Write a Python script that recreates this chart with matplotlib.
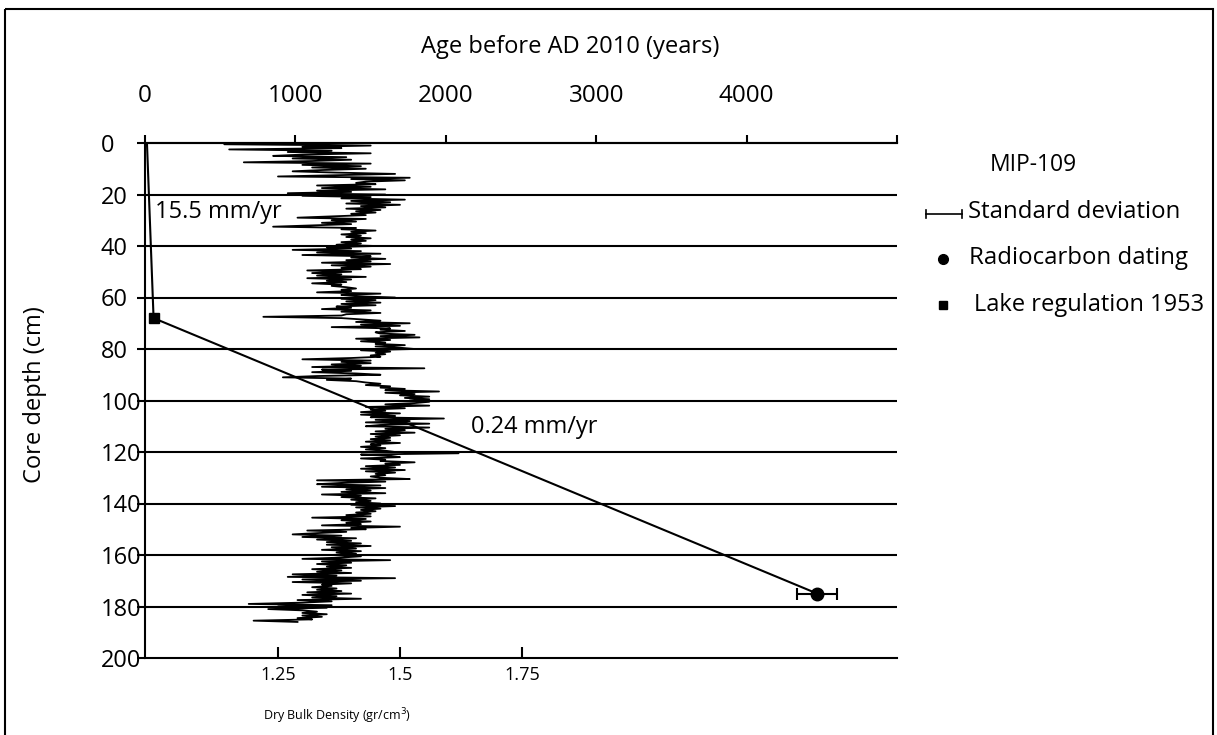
import numpy as np
import matplotlib
matplotlib.use("Agg")
import matplotlib.pyplot as plt
from matplotlib.patches import Rectangle

plt.rcParams['font.family'] = ['Open Sans', 'DejaVu Sans']

# ---------------- data ----------------
# dry bulk density (g/cm3), sampled every 0.5 cm from 0 to 186 cm
density = [
    1.45, 1.14, 1.44, 1.30, 1.38, 1.15, 1.36, 1.27, 1.44, 1.30,
    1.24, 1.39, 1.28, 1.40, 1.32, 1.18, 1.44, 1.30, 1.42, 1.32,
    1.43, 1.34, 1.28, 1.37, 1.49, 1.37, 1.25, 1.52, 1.40, 1.51,
    1.43, 1.41, 1.45, 1.33, 1.44, 1.34, 1.47, 1.33, 1.40, 1.27,
    1.47, 1.30, 1.44, 1.38, 1.51, 1.40, 1.48, 1.39, 1.50, 1.42,
    1.47, 1.39, 1.46, 1.41, 1.45, 1.40, 1.43, 1.36, 1.29, 1.43,
    1.36, 1.41, 1.34, 1.40, 1.32, 1.24, 1.41, 1.38, 1.45, 1.40,
    1.43, 1.38, 1.42, 1.39, 1.44, 1.40, 1.43, 1.38, 1.42, 1.37,
    1.45, 1.35, 1.40, 1.28, 1.42, 1.33, 1.46, 1.30, 1.44, 1.40,
    1.47, 1.39, 1.44, 1.34, 1.48, 1.36, 1.44, 1.38, 1.42, 1.31,
    1.40, 1.32, 1.38, 1.33, 1.43, 1.31, 1.40, 1.35, 1.39, 1.32,
    1.38, 1.36, 1.39, 1.41, 1.38, 1.40, 1.33, 1.46, 1.38, 1.41,
    1.49, 1.38, 1.45, 1.39, 1.46, 1.38, 1.45, 1.37, 1.40, 1.34,
    1.44, 1.38, 1.46, 1.39, 1.38, 1.22, 1.38, 1.42, 1.46, 1.41,
    1.52, 1.42, 1.50, 1.36, 1.48, 1.46, 1.51, 1.45, 1.46, 1.53,
    1.46, 1.54, 1.41, 1.48, 1.42, 1.47, 1.45, 1.51, 1.45, 1.50,
    1.53, 1.42, 1.48, 1.45, 1.47, 1.44, 1.46, 1.40, 1.30, 1.44,
    1.38, 1.44, 1.36, 1.42, 1.32, 1.55, 1.34, 1.40, 1.32, 1.41,
    1.46, 1.33, 1.26, 1.40, 1.35, 1.41, 1.43, 1.46, 1.43, 1.48,
    1.46, 1.51, 1.47, 1.58, 1.47, 1.53, 1.50, 1.56, 1.51, 1.56,
    1.52, 1.56, 1.53, 1.47, 1.56, 1.43, 1.51, 1.44, 1.47, 1.42,
    1.50, 1.42, 1.49, 1.44, 1.59, 1.45, 1.52, 1.43, 1.56, 1.46,
    1.43, 1.56, 1.47, 1.51, 1.45, 1.53, 1.44, 1.50, 1.45, 1.48,
    1.44, 1.48, 1.43, 1.50, 1.44, 1.46, 1.42, 1.47, 1.43, 1.47,
    1.49, 1.62, 1.42, 1.48, 1.50, 1.42, 1.47, 1.46, 1.53, 1.47,
    1.50, 1.43, 1.49, 1.42, 1.51, 1.43, 1.49, 1.45, 1.47, 1.44,
    1.46, 1.52, 1.33, 1.47, 1.38, 1.33, 1.46, 1.34, 1.47, 1.39,
    1.44, 1.38, 1.47, 1.34, 1.42, 1.38, 1.45, 1.40, 1.44, 1.41,
    1.46, 1.40, 1.49, 1.41, 1.46, 1.42, 1.45, 1.41, 1.44, 1.39,
    1.44, 1.32, 1.43, 1.38, 1.44, 1.39, 1.42, 1.34, 1.50, 1.40,
    1.43, 1.31, 1.39, 1.33, 1.28, 1.38, 1.30, 1.41, 1.33, 1.40,
    1.35, 1.42, 1.35, 1.44, 1.36, 1.41, 1.34, 1.42, 1.37, 1.41,
    1.36, 1.42, 1.38, 1.30, 1.48, 1.34, 1.40, 1.33, 1.39, 1.35,
    1.40, 1.32, 1.38, 1.33, 1.40, 1.28, 1.37, 1.27, 1.49, 1.30,
    1.42, 1.28, 1.40, 1.34, 1.36, 1.32, 1.37, 1.33, 1.38, 1.31,
    1.40, 1.30, 1.37, 1.32, 1.42, 1.29, 1.36, 1.30, 1.19, 1.36,
    1.25, 1.35, 1.23, 1.30, 1.33, 1.30, 1.35, 1.30, 1.34, 1.29,
    1.32, 1.20, 1.29,
]
density_depth = np.arange(len(density)) * 0.5

# age-depth model
model_depth = [0, 68, 175]          # cm
model_age = [13, 57, 4470]          # years before AD 2010
radiocarbon_depth = [175]
radiocarbon_age = [4470]
radiocarbon_sd = [133]
regulation_depth = [68]
regulation_age = [57]

depth_ticks = list(range(0, 201, 20))
age_ticks = [0, 1000, 2000, 3000, 4000, 5000]
age_tick_labels = ['0', '1000', '2000', '3000', '4000', '']
density_ticks = [1.25, 1.5, 1.75]
density_tick_labels = ['1.25', '1.5', '1.75']

# ---------------- figure ----------------
W, H = 1217, 735
fig = plt.figure(figsize=(W / 100, H / 100), dpi=100)
fig.patch.set_facecolor('white')

ax = fig.add_axes([145 / W, 1 - 658 / H, (897 - 145) / W, (658 - 143) / H])
ax.set_xlim(0.9775, 2.5185)
ax.set_ylim(200, 0)

lw = 1.5
for d in depth_ticks[1:-1]:
    ax.axhline(d, color='black', lw=lw, zorder=1)

ax.plot(density, density_depth, color='black', lw=1.3, zorder=3)

ax.spines['right'].set_visible(False)
for s in ['left', 'bottom', 'top']:
    ax.spines[s].set_linewidth(lw)

ax.set_yticks(depth_ticks)
ax.set_yticklabels([str(t) for t in depth_ticks], fontsize=17)
ax.tick_params(axis='y', direction='out', length=6, width=lw, pad=26)
for lab in ax.get_yticklabels():
    lab.set_horizontalalignment('left')

ax.set_xticks(density_ticks)
ax.set_xticklabels(density_tick_labels, fontsize=13)
ax.tick_params(axis='x', direction='in', length=8, width=lw, pad=6)

# age axis on top
ax2 = ax.twiny()
ax2.set_xlim(0, 5000)
ax2.set_ylim(200, 0)
for s in ['right', 'bottom', 'left']:
    ax2.spines[s].set_visible(False)
ax2.spines['top'].set_linewidth(lw)
ax2.set_xticks(age_ticks)
ax2.set_xticklabels(age_tick_labels, fontsize=17.5)
ax2.tick_params(axis='x', direction='out', length=6, width=lw, pad=19)

ax2.plot(model_age, model_depth, color='black', lw=1.5, zorder=4)
ax2.errorbar(radiocarbon_age, radiocarbon_depth, xerr=radiocarbon_sd, fmt='o',
             color='black', ms=9, capsize=4, elinewidth=1.5, capthick=1.5, zorder=5)
ax2.plot(regulation_age, regulation_depth, 's', color='black', ms=7.5, zorder=5)

ax2.text(65, 26.8, '15.5 mm/yr', fontsize=17, va='center', ha='left')
ax2.text(2165, 110.3, '0.24 mm/yr', fontsize=17, va='center', ha='left')

# axis titles
fig.text(570 / W, 1 - 47 / H, 'Age before AD 2010 (years)', fontsize=17,
         ha='center', va='center')
fig.text(35 / W, 1 - 395 / H, 'Core depth (cm)', fontsize=17, rotation=90,
         ha='center', va='center')
fig.text(337 / W, 1 - 716 / H, 'Dry Bulk Density (gr/cm$^3$)', fontsize=9,
         ha='center', va='center')

# overlay for legend and frame (pixel coordinates)
ov = fig.add_axes([0, 0, 1, 1], zorder=-1)
ov.set_xlim(0, W)
ov.set_ylim(H, 0)
ov.axis('off')
ov.add_patch(Rectangle((5, 9), 1208, 760, fill=False, edgecolor='black', lw=1.5))

ov.text(990, 165, 'MIP-109', fontsize=16.5, va='center', ha='left')
ov.plot([926, 962], [214, 214], color='black', lw=1.2)
ov.plot([926, 926], [210, 218], color='black', lw=1.2)
ov.plot([962, 962], [210, 218], color='black', lw=1.2)
ov.text(968, 212, 'Standard deviation', fontsize=17.3, va='center', ha='left')
ov.plot([943], [259], 'o', color='black', ms=7)
ov.text(969, 258, 'Radiocarbon dating', fontsize=17.3, va='center', ha='left')
ov.plot([943], [305], 's', color='black', ms=6)
ov.text(974, 305, 'Lake regulation 1953', fontsize=17, va='center', ha='left')

fig.savefig('out.png', dpi=100)
